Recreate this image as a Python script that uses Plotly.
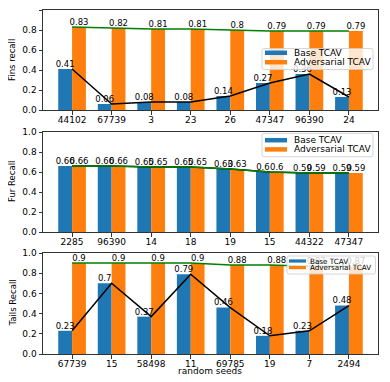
import plotly.graph_objects as go

fins_seeds = ["44102", "67739", "3", "23", "26", "47347", "96390", "24"]
fins_base = [0.41, 0.06, 0.08, 0.08, 0.14, 0.27, 0.36, 0.13]
fins_adv = [0.83, 0.82, 0.81, 0.81, 0.80, 0.79, 0.79, 0.79]

fur_seeds = ["2285", "96390", "14", "18", "19", "15", "44322", "47347"]
fur_base = [0.66, 0.66, 0.65, 0.65, 0.63, 0.60, 0.59, 0.59]
fur_adv = [0.66, 0.66, 0.65, 0.65, 0.63, 0.60, 0.59, 0.59]

tails_seeds = ["67739", "15", "58498", "11", "69785", "19", "7", "2494"]
tails_base = [0.23, 0.70, 0.37, 0.79, 0.46, 0.18, 0.23, 0.48]
tails_adv = [0.90, 0.90, 0.90, 0.90, 0.88, 0.88, 0.87, 0.87]

y_titles = ["Fins recall", "Fur Recall", "Tails Recall"]
legend_labels = ["Base TCAV", "Adversarial TCAV"]

panels = [
    (fins_seeds, fins_base, fins_adv),
    (fur_seeds, fur_base, fur_adv),
    (tails_seeds, tails_base, tails_adv),
]

BLUE = "#1f77b4"
ORANGE = "#ff7f0e"
OFF = 8  # page body margin
W = 390 - OFF
H = 382 - OFF
FONT = "DejaVu Sans"
AX = "#333333"


def px(x):
    return (x - OFF) / W


def py(y):
    return 1 - (y - OFF) / H


# pixel boxes of plot areas in window coords (left, right, top, bottom)
boxes = [(43, 378, 10, 110), (43, 378, 132, 232), (43, 378, 253, 354)]

# legend boxes: (left, right, top, bottom, patch_x0, patch_x1, patch_h, row1_y, row2_y, text_x, font)
legend_boxes = [
    (262, 373, 48.5, 69.5, 265, 287, 4.5, 52.8, 62.2, 292, 9),
    (262, 373, 133.3, 156.7, 265, 287, 4.5, 140.2, 149.4, 292, 9),
    (287, 375.5, 256, 274, 289, 306, 3.2, 261.0, 267.6, 308, 7.2),
]

fig = go.Figure()
layout = {}
shapes = []
annotations = []

for i, (seeds, base, adv) in enumerate(panels):
    n = i + 1
    xa = "x" if n == 1 else f"x{n}"
    ya = "y" if n == 1 else f"y{n}"
    pos = list(range(len(seeds)))
    fig.add_trace(go.Bar(x=pos, y=base, width=0.35, offset=-0.35, marker_color=BLUE,
                         marker_line_width=0, xaxis=xa, yaxis=ya, showlegend=False))
    fig.add_trace(go.Bar(x=pos, y=adv, width=0.35, offset=0, marker_color=ORANGE,
                         marker_line_width=0, xaxis=xa, yaxis=ya, showlegend=False))
    fig.add_trace(go.Scatter(x=pos, y=base, mode="lines", line=dict(color="black", width=1.5),
                             xaxis=xa, yaxis=ya, showlegend=False))
    fig.add_trace(go.Scatter(x=pos, y=adv, mode="lines", line=dict(color="green", width=1.5),
                             xaxis=xa, yaxis=ya, showlegend=False))
    fig.add_trace(go.Scatter(x=[p - 0.175 for p in pos], y=base, mode="text",
                             text=[f"{v:g}" for v in base], textposition="top center",
                             textfont=dict(size=8.5, color="black", family=FONT),
                             xaxis=xa, yaxis=ya, showlegend=False, cliponaxis=False))
    fig.add_trace(go.Scatter(x=[p + 0.175 for p in pos], y=adv, mode="text",
                             text=[f"{v:g}" for v in adv], textposition="top center",
                             textfont=dict(size=8.5, color="black", family=FONT),
                             xaxis=xa, yaxis=ya, showlegend=False, cliponaxis=False))

    l, r, t, b = boxes[i]
    xkey = "xaxis" if n == 1 else f"xaxis{n}"
    ykey = "yaxis" if n == 1 else f"yaxis{n}"
    layout[xkey] = dict(
        domain=[px(l), px(r)], anchor=ya, range=[-0.735, len(seeds) - 1 + 0.735],
        tickvals=pos, ticktext=seeds, showgrid=False, zeroline=False, automargin=False,
        showline=True, mirror=True, linecolor=AX, linewidth=1,
        ticks="outside", ticklen=3.5, tickcolor=AX, ticklabelstandoff=-2,
        tickfont=dict(size=9, color="black", family=FONT),
    )
    layout[ykey] = dict(
        domain=[py(b), py(t)], anchor=xa, range=[0, 1.0],
        tickvals=[0, 0.2, 0.4, 0.6, 0.8, 1.0], tickformat=".1f",
        showgrid=False, zeroline=False, automargin=False,
        showline=True, mirror=True, linecolor=AX, linewidth=1,
        ticks="outside", ticklen=3.5, tickcolor=AX,
        tickfont=dict(size=9, color="black", family=FONT),
    )
    annotations.append(dict(text=y_titles[i], textangle=-90, x=px(12), y=py((t + b) / 2),
                            xref="paper", yref="paper", showarrow=False,
                            font=dict(size=8.5, color="black", family=FONT),
                            xanchor="center", yanchor="middle"))

    # hand-made matplotlib-style legend
    L, R, T, B, p0, p1, ph, r1, r2, tx, fs = legend_boxes[i]
    rad = 2
    path = (f"M {px(L + rad)},{py(T)} L {px(R - rad)},{py(T)} Q {px(R)},{py(T)} {px(R)},{py(T + rad)} "
            f"L {px(R)},{py(B - rad)} Q {px(R)},{py(B)} {px(R - rad)},{py(B)} "
            f"L {px(L + rad)},{py(B)} Q {px(L)},{py(B)} {px(L)},{py(B - rad)} "
            f"L {px(L)},{py(T + rad)} Q {px(L)},{py(T)} {px(L + rad)},{py(T)} Z")
    shapes.append(dict(type="path", path=path, xref="paper", yref="paper", layer="above",
                       fillcolor="rgba(255,255,255,0.8)", line=dict(color="rgba(204,204,204,0.8)", width=1)))
    for rowy, col, lab in [(r1, BLUE, legend_labels[0]), (r2, ORANGE, legend_labels[1])]:
        shapes.append(dict(type="rect", xref="paper", yref="paper", layer="above",
                           x0=px(p0), x1=px(p1), y0=py(rowy - ph / 2), y1=py(rowy + ph / 2),
                           fillcolor=col, line=dict(width=0)))
        annotations.append(dict(text=lab, x=px(tx), y=py(rowy), xref="paper", yref="paper",
                                showarrow=False, xanchor="left", yanchor="middle",
                                font=dict(size=fs, color="black", family=FONT)))

annotations.append(dict(text="random seeds", x=px(210), y=py(371), xref="paper", yref="paper",
                        showarrow=False, xanchor="center", yanchor="middle",
                        font=dict(size=9, color="black", family=FONT)))

fig.update_layout(
    width=W, height=H, margin=dict(l=0, r=0, t=0, b=0, autoexpand=False),
    paper_bgcolor="white", plot_bgcolor="white", showlegend=False,
    barmode="overlay", font=dict(family=FONT, color="black"),
    shapes=shapes, annotations=annotations,
    **layout,
)

fig.write_html("out.html")
